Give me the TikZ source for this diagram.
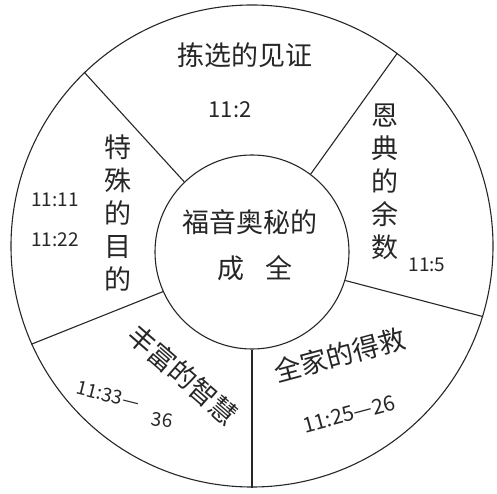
\documentclass[tikz,border=0pt]{standalone}
\usepackage{fontspec}
\newfontfamily\cjk{Noto Sans CJK SC}
\usetikzlibrary{
		calc,
		positioning
	}
\tikzset{
		>=stealth,
		ring/.style={circle, draw=black!85, line width=1.1pt, inner sep=0pt},
		word/.style={font=\cjk\fontsize{27}{33}\selectfont, text=black!85, align=center, inner sep=0pt},
		verse/.style={font=\cjk\fontsize{19}{23}\selectfont, text=black!85, align=center, inner sep=0pt},
		spoke/.style={draw=black!85, line width=1.1pt}
	}

\begin{document}
\begin{tikzpicture}[x=1pt, y=1pt]
        \useasboundingbox (-252,-244) rectangle (245,250);

        % draw the circles
        \node[ring, minimum size=482pt] (outer) at (0,4) {};
        \node[ring, minimum size=194pt] (inner) at (0,-2) {};

        % draw the spokes between the circles
        \foreach \a in {134,53,-17,-90,204}
            \draw[spoke] (inner.\a) -- (outer.\a);

        % the texts in the middle
        \node[word] (gospel) at (-2,28) {福音奥秘的};
        \node[word] (fulfil) at (3,-18) {成\hspace{0.8em}全};

        % the texts in the sectors
        \node[word] (chosen) at (-7,195) {拣选的见证};
        \node[verse, font=\cjk\fontsize{22}{26}\selectfont] (chosenv) at (-22,140) {11:2};

        \node[word] (grace) at (133,68) {恩\\典\\的\\余\\数};
        \node[verse] (gracev) at (175,-15) {11:5};

        \node[word] (saved) at (88,-105) [rotate=15] {全家的得救};
        \node[verse, font=\cjk\fontsize{21}{25}\selectfont] (savedv) at (97,-164) [rotate=15] {11:25—26};

        \node[word] (wisdom) at (-69,-125) [rotate=-41] {丰富的智慧};
        \node[verse] (wisdomv) at (-144,-145) [rotate=-14] {11:33—};
        \node[verse] (wisdomw) at (-90,-170) [rotate=-8] {36};

        \node[word] (purpose) at (-134,37) {特\\殊\\的\\目\\的};
        \node[verse] (purposev) at (-197,50) {11:11};
        \node[verse] (purposew) at (-197,10) {11:22};

    \end{tikzpicture}
\end{document}
